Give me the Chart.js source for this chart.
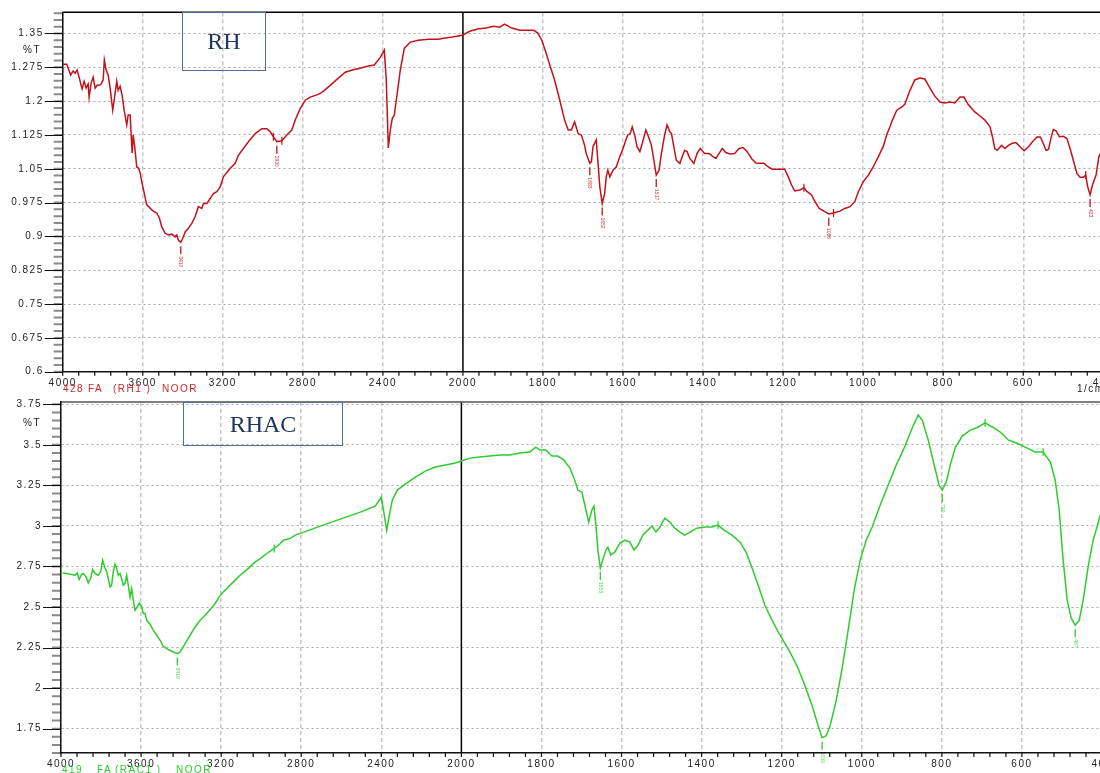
<!DOCTYPE html>
<html><head><meta charset="utf-8">
<script src="https://cdn.jsdelivr.net/npm/chart.js@4.4.1/dist/chart.umd.min.js"></script>
<style>
html,body{margin:0;padding:0;background:#fff;width:1100px;height:773px;overflow:hidden;position:relative;font-family:"Liberation Sans",Arial,sans-serif}
canvas{position:absolute;left:0}
#c1{top:0}
#c2{top:395px}
.box{position:absolute;border:1px solid #4f6f9c;color:#1f3660;font-family:"Liberation Serif","Times New Roman",serif;font-size:24px;display:flex;align-items:center;justify-content:center;box-sizing:border-box}
.t{position:absolute;font-size:10px;line-height:12px;letter-spacing:1.5px;white-space:pre;color:#222}
</style></head>
<body>
<canvas id="c1" width="1130" height="395"></canvas>
<canvas id="c2" width="1130" height="378"></canvas>
<div class="box" style="left:182px;top:12px;width:84px;height:59px">RH</div>
<div class="box" style="left:183px;top:402px;width:160px;height:44px">RHAC</div>
<div class="t" style="left:23px;top:44px">%T</div>
<div class="t" style="left:23px;top:417px">%T</div>
<div class="t" style="left:1077px;top:383px">1/cm</div>
<div class="t" style="left:63px;top:383px;color:#d02828">428</div>
<div class="t" style="left:88px;top:383px;color:#d02828">FA</div>
<div class="t" style="left:113px;top:383px;color:#d02828">(RH1 )</div>
<div class="t" style="left:162px;top:383px;color:#d02828">NOOR</div>
<div class="t" style="left:62px;top:764px;color:#2ccc2c">419</div>
<div class="t" style="left:97px;top:764px;color:#2ccc2c">FA</div>
<div class="t" style="left:115px;top:764px;color:#2ccc2c">(RAC1 )</div>
<div class="t" style="left:176px;top:764px;color:#2ccc2c">NOOR</div>
<script>
// ---------- data ----------
const X_TICKS = [4000,3600,3200,2800,2400,2000,1800,1600,1400,1200,1000,800,600,400];
const Y_TICKS_RH = [1.35,1.275,1.2,1.125,1.05,0.975,0.9,0.825,0.75,0.675,0.6];
const Y_TICKS_RHAC = [3.75,3.5,3.25,3,2.75,2.5,2.25,2,1.75];

const WN_RH = [3997,3980,3960,3948,3938,3928,3918,3908,3903,3893,
3883,3873,3868,3858,3848,3838,3828,3818,3808,3798,
3792,3783,3773,3763,3750,3743,3730,3723,3713,3703,
3693,3680,3673,3663,3653,3648,3640,3630,3622,3613,
3605,3597,3580,3568,3555,3543,3530,3517,3505,3488,
3472,3455,3438,3430,3422,3410,3400,3388,3372,3355,
3338,3322,3305,3297,3280,3263,3247,3230,3213,3197,
3163,3138,3122,3097,3072,3038,3005,2980,2963,2947,
2930,2905,2880,2855,2838,2813,2788,2763,2723,2703,
2663,2623,2588,2553,2513,2473,2443,2413,2393,2383,
2373,2363,2353,2343,2333,2313,2293,2263,2223,2173,
2123,2088,2053,2003,
1983,1963,1943,1923,1908,1896,1878,1858,1838,1823,
1813,1803,1793,1783,1771,1758,1746,1737,1729,1721,
1712,1704,1696,1692,1683,1679,1675,1667,1663,1658,
1652,1646,1642,1638,1633,1625,1617,1608,1600,1593,
1588,1582,1577,1571,1565,1558,1552,1543,1538,1529,
1523,1517,1510,1504,1496,1490,1483,1479,1473,1467,
1458,1452,1446,1440,1433,1423,1415,1407,1396,1385,
1377,1368,1360,1352,1343,1333,1321,1310,1300,1290,
1279,1268,1258,1248,1237,1227,1217,1204,1196,1187,
1179,1171,1158,1148,1142,1129,1121,1110,1096,1086,
1074,1058,1046,1033,1021,1012,1000,987,975,962,
950,940,933,927,916,903,896,883,871,858,
846,833,821,808,796,783,771,758,748,738,
721,708,696,683,677,671,665,654,646,637,
629,618,608,598,587,577,565,557,550,543,
537,531,525,518,510,500,491,483,475,466,
458,450,444,439,433,427,418,411,403];
const T_RH = [1.282,1.282,1.258,1.267,1.262,1.269,1.253,1.235,1.227,1.244,
1.229,1.238,1.209,1.240,1.253,1.229,1.235,1.235,1.238,1.247,
1.291,1.269,1.258,1.229,1.180,1.202,1.244,1.224,1.233,1.213,
1.180,1.147,1.169,1.169,1.085,1.125,1.098,1.054,1.052,1.041,
1.021,1.005,0.970,0.965,0.959,0.955,0.952,0.941,0.921,0.907,
0.903,0.905,0.899,0.903,0.892,0.887,0.896,0.910,0.918,0.929,
0.944,0.966,0.962,0.973,0.973,0.984,0.995,0.999,1.010,1.032,
1.051,1.062,1.080,1.095,1.110,1.128,1.139,1.139,1.132,1.121,
1.110,1.112,1.125,1.136,1.158,1.184,1.202,1.209,1.215,1.220,
1.235,1.251,1.264,1.269,1.273,1.278,1.280,1.297,1.313,1.247,
1.096,1.136,1.162,1.169,1.202,1.269,1.317,1.331,1.335,1.337,
1.337,1.340,1.342,1.346,
1.355,1.360,1.362,1.366,1.364,1.371,1.362,1.357,1.357,1.357,
1.351,1.335,1.309,1.280,1.247,1.202,1.158,1.136,1.136,1.154,
1.128,1.125,1.102,1.084,1.062,1.066,1.099,1.114,1.069,1.010,
0.973,0.995,1.032,1.047,1.032,1.047,1.054,1.077,1.095,1.114,
1.125,1.128,1.143,1.125,1.099,1.088,1.106,1.136,1.125,1.102,
1.069,1.036,1.047,1.084,1.125,1.147,1.132,1.128,1.099,1.069,
1.062,1.077,1.091,1.088,1.073,1.062,1.084,1.095,1.084,1.084,
1.078,1.073,1.084,1.095,1.086,1.083,1.084,1.095,1.097,1.088,
1.073,1.063,1.062,1.062,1.054,1.049,1.049,1.049,1.049,1.032,
1.014,1.001,1.003,1.008,1.001,0.992,0.978,0.962,0.955,0.950,
0.952,0.956,0.962,0.966,0.977,0.999,1.021,1.036,1.054,1.077,
1.099,1.128,1.143,1.158,1.180,1.187,1.193,1.224,1.247,1.251,
1.249,1.229,1.211,1.198,1.196,1.198,1.196,1.209,1.209,1.193,
1.176,1.167,1.158,1.143,1.121,1.095,1.091,1.102,1.095,1.102,
1.106,1.108,1.099,1.090,1.099,1.110,1.121,1.120,1.106,1.091,
1.093,1.117,1.137,1.134,1.121,1.122,1.117,1.095,1.069,1.040,
1.031,1.031,1.036,1.010,0.992,1.014,1.036,1.077,1.091];

const WN_RHAC = [3992,3972,3947,3930,3919,3909,3897,3889,3875,3864,
3852,3842,3830,3814,3802,3792,3782,3772,3764,3755,
3747,3739,3730,3722,3714,3705,3697,3689,3680,3672,
3664,3655,3647,3639,3630,3619,3609,3597,3589,3580,
3572,3555,3539,3522,3505,3489,3464,3439,3419,3405,
3392,3375,3355,3330,3305,3280,3255,3230,3205,3172,
3139,3105,3064,3030,3005,2972,2947,2935,2914,2889,
2855,2830,2805,2705,2605,2505,2430,2400,2385,2373,
2360,2345,2320,2280,2230,2180,2130,2080,2030,2000,
1979,1954,1929,1904,1879,1854,1829,1814,1804,1789,
1774,1759,1744,1729,1717,1709,1699,1689,1682,1674,
1669,1664,1659,1653,1647,1639,1634,1627,1617,1604,
1592,1579,1569,1559,1547,1534,1524,1514,1504,1492,
1479,1467,1454,1442,1429,1412,1392,1374,1359,1344,
1324,1304,1289,1274,1259,1242,1224,1204,1179,1159,
1142,1124,1109,1099,1089,1079,1064,1049,1034,1019,
1004,989,974,954,934,914,894,874,859,849,
834,819,807,799,789,779,767,749,729,709,
692,674,654,634,614,592,567,547,529,517,
507,497,487,477,467,457,447,434,422,404];
const T_RHAC = [2.710,2.707,2.701,2.696,2.710,2.670,2.702,2.707,2.686,2.649,
2.676,2.731,2.707,2.696,2.717,2.789,2.747,2.717,2.676,2.624,
2.635,2.717,2.764,2.738,2.696,2.707,2.676,2.635,2.645,2.696,
2.635,2.562,2.614,2.542,2.480,2.501,2.525,2.501,2.460,2.460,
2.418,2.394,2.357,2.326,2.295,2.258,2.238,2.223,2.213,2.223,
2.250,2.285,2.326,2.377,2.418,2.449,2.484,2.522,2.573,2.614,
2.655,2.696,2.738,2.778,2.799,2.830,2.851,2.861,2.881,2.912,
2.923,2.943,2.954,2.999,3.042,3.085,3.122,3.178,3.067,2.974,
3.067,3.159,3.221,3.258,3.301,3.338,3.363,3.375,3.388,3.400,
3.418,3.425,3.431,3.437,3.437,3.449,3.456,3.486,3.468,3.468,
3.431,3.431,3.406,3.357,3.283,3.221,3.209,3.098,3.023,3.098,
3.122,3.005,2.851,2.740,2.789,2.851,2.869,2.820,2.838,2.894,
2.912,2.900,2.851,2.881,2.943,2.974,2.999,2.962,2.993,3.048,
3.023,2.986,2.962,2.943,2.962,2.986,2.993,2.993,3.005,2.974,
2.943,2.900,2.838,2.740,2.635,2.511,2.418,2.326,2.221,2.122,
2.016,1.892,1.768,1.694,1.706,1.768,1.923,2.122,2.357,2.603,
2.789,2.912,2.993,3.128,3.252,3.375,3.480,3.604,3.684,3.653,
3.530,3.375,3.252,3.221,3.270,3.375,3.480,3.554,3.591,3.610,
3.635,3.610,3.579,3.530,3.511,3.486,3.456,3.456,3.394,3.283,
3.098,2.789,2.542,2.431,2.388,2.418,2.542,2.758,2.912,3.067];

const PEAK_WN_RH = [3410,2930,1683,1652,1517,1086,433];
const PEAK_LBL_RH = ['3410','2930','1683','1652','1517','1086','433'];
const PEAK_WN_RHAC = [3419,1653,1099,799,467];
const PEAK_LBL_RHAC = ['3419','1653','1099','799','467'];
// small cross marks on the trace
const MARK_WN_RH = [2947,2905,1148,1074,444];
const MARK_WN_RHAC = [2935,1359,692,547];

// ---------- FTIR split-scale x axis (4000-2000 at half the density of 2000-400) ----------
class FtirScale extends Chart.LinearScale {
  buildTicks() {
    this.start = this.min; this.end = this.max;
    return X_TICKS.map(v => ({ value: v }));
  }
  getPixelForValue(v) {
    const t = v >= 2000 ? (4000 - v) / 2 : 1000 + (2000 - v);
    return this.getPixelForDecimal(t / 2600);
  }
  getValueForPixel(p) {
    const t = this.getDecimalForPixel(p) * 2600;
    return t <= 1000 ? 4000 - 2 * t : 2000 - (t - 1000);
  }
}
FtirScale.id = 'ftir';
FtirScale.defaults = {};
Chart.register(FtirScale);

function nearestIdx(arr, w) {
  let best = 0;
  for (let j = 0; j < arr.length; j++) if (Math.abs(arr[j] - w) < Math.abs(arr[best] - w)) best = j;
  return best;
}

function decor(cfg) {
  return {
    id: 'decor',
    beforeLayout(chart) { chart.ctx.letterSpacing = '1.5px'; },
    beforeDraw(chart) { chart.ctx.letterSpacing = '1.5px'; },
    beforeDatasetsDraw(chart) {
      const { ctx, chartArea: a, scales: { x } } = chart;
      ctx.save();
      const px = x.getPixelForValue(2000);
      ctx.strokeStyle = '#000'; ctx.lineWidth = 1.5;
      ctx.beginPath(); ctx.moveTo(px, a.top); ctx.lineTo(px, a.bottom); ctx.stroke();
      ctx.strokeStyle = cfg.topColor; ctx.lineWidth = 1.5;
      ctx.beginPath(); ctx.moveTo(a.left, a.top); ctx.lineTo(a.right, a.top); ctx.stroke();
      ctx.restore();
    },
    afterDatasetsDraw(chart) {
      const { ctx, chartArea: a, scales: { x, y } } = chart;
      ctx.save();
      ctx.letterSpacing = '0px';
      // x-axis tick marks (major + minor)
      ctx.strokeStyle = '#222'; ctx.lineWidth = 1.3;
      ctx.beginPath();
      for (let w = 4000; w > 2000; w -= 80) { const p = x.getPixelForValue(w); ctx.moveTo(p, a.bottom); ctx.lineTo(p, a.bottom + 4); }
      for (let w = 2000; w >= 400; w -= 40) { const p = x.getPixelForValue(w); ctx.moveTo(p, a.bottom); ctx.lineTo(p, a.bottom + 4); }
      ctx.stroke();
      // y-axis minor ticks
      ctx.strokeStyle = '#8a8a8a'; ctx.lineWidth = 2;
      ctx.beginPath();
      const n = Math.round((y.max - y.min) / cfg.yMinor);
      for (let i = 0; i <= n; i++) {
        const v = y.min + i * cfg.yMinor; if (v > y.max + 1e-9) break;
        const p = y.getPixelForValue(v); ctx.moveTo(a.left - 9, p); ctx.lineTo(a.left, p);
      }
      ctx.stroke();
      // y-axis major ticks
      ctx.strokeStyle = '#111'; ctx.lineWidth = 1;
      ctx.beginPath();
      cfg.yticks.forEach(v => { const p = Math.round(y.getPixelForValue(v)) + 0.5; ctx.moveTo(a.left - 18, p); ctx.lineTo(a.left, p); });
      ctx.stroke();
      // cross marks
      ctx.strokeStyle = cfg.color; ctx.lineWidth = 1.2;
      ctx.beginPath();
      cfg.marks.forEach(w => {
        const j = nearestIdx(cfg.wn, w);
        const px = x.getPixelForValue(cfg.wn[j]), py = y.getPixelForValue(cfg.t[j]);
        ctx.moveTo(px, py - 4); ctx.lineTo(px, py + 4);
      });
      ctx.stroke();
      // peak markers
      cfg.peaks.forEach((w, i) => {
        const j = nearestIdx(cfg.wn, w);
        const px = x.getPixelForValue(w), py = y.getPixelForValue(cfg.t[j]);
        ctx.strokeStyle = cfg.color; ctx.lineWidth = 1.3;
        ctx.beginPath(); ctx.moveTo(px, py + 4); ctx.lineTo(px, py + 12); ctx.stroke();
        ctx.save();
        ctx.translate(px, py + 14); ctx.rotate(Math.PI / 2);
        ctx.font = '5px "Liberation Sans"'; ctx.fillStyle = cfg.lblColor; ctx.textBaseline = 'middle';
        ctx.fillText(cfg.peakLbl[i], 0, 0);
        ctx.restore();
      });
      ctx.restore();
    }
  };
}

function makeChart(id, cfg) {
  const font = { family: '"Liberation Sans", Arial, sans-serif', size: 10 };
  return new Chart(document.getElementById(id), {
    type: 'line',
    data: { datasets: [{ data: cfg.wn.map((w, i) => ({ x: w, y: cfg.t[i] })), borderColor: cfg.color, borderWidth: 1.5, pointRadius: 0, tension: 0, fill: false }] },
    options: {
      responsive: false, animation: false, events: [],
      layout: { padding: cfg.pad },
      plugins: { legend: { display: false }, tooltip: { enabled: false } },
      scales: {
        x: {
          type: 'ftir', min: 400, max: 4000,
          afterFit(s) { s.height = cfg.xh; },
          grid: { color: c => (c.tick && c.tick.value === 2000) ? 'rgba(0,0,0,0)' : '#c6c6c6', lineWidth: 1.5, drawTicks: true, tickLength: cfg.xpad, tickColor: 'rgba(0,0,0,0)' },
          border: { color: '#111', width: 1.5, dash: [4, 3], z: 1 },
          ticks: { autoSkip: false, maxRotation: 0, padding: 0, color: '#222', font, callback: v => String(v) }
        },
        y: {
          type: 'linear', min: cfg.ymin, max: cfg.ymax,
          afterFit(s) { s.width = cfg.yw; },
          afterBuildTicks(s) { s.ticks = cfg.yticks.map(v => ({ value: v })); },
          grid: { color: '#a8a8a8', lineWidth: 1, drawTicks: true, tickLength: 19, tickColor: 'rgba(0,0,0,0)' },
          border: { color: '#111', width: 1.5, dash: [2, 3], z: 1 },
          ticks: { padding: 0, color: '#222', font, callback: v => String(v) }
        }
      }
    },
    plugins: [decor(cfg)]
  });
}

makeChart('c1', {
  wn: WN_RH, t: T_RH, color: '#c4121a', lblColor: '#d0363c', topColor: '#000',
  pad: { left: 0, right: 26.7, top: 12.3, bottom: 0 }, xh: 23.3, xpad: 6, yw: 62.7,
  ymin: 0.6, ymax: 1.397, yticks: Y_TICKS_RH, yMinor: 0.015,
  peaks: PEAK_WN_RH, peakLbl: PEAK_LBL_RH, marks: MARK_WN_RH
});
makeChart('c2', {
  wn: WN_RHAC, t: T_RHAC, color: '#2ecc2e', lblColor: '#55d855', topColor: '#555',
  pad: { left: 0, right: 28, top: 7, bottom: 0 }, xh: 20, xpad: 5, yw: 61,
  ymin: 1.6, ymax: 3.764, yticks: Y_TICKS_RHAC, yMinor: 0.05,
  peaks: PEAK_WN_RHAC, peakLbl: PEAK_LBL_RHAC, marks: MARK_WN_RHAC
});
</script>
</body></html>
